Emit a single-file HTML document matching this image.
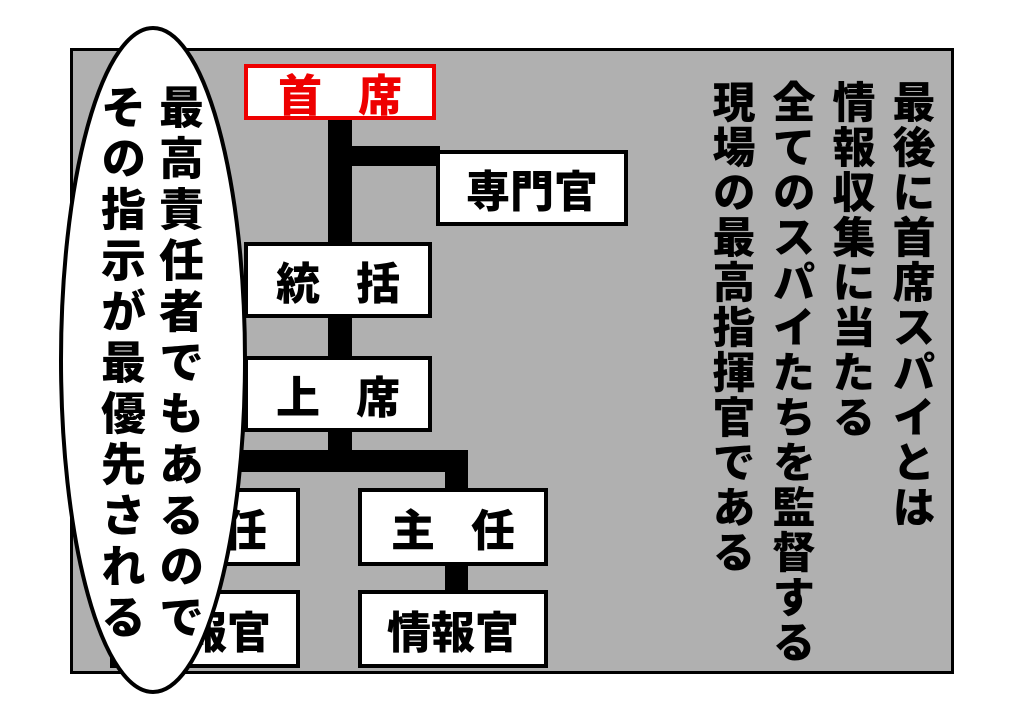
<!DOCTYPE html>
<html><head><meta charset="utf-8"><style>
body{margin:0;width:1024px;height:724px;background:#fff;position:relative;overflow:hidden;font-family:"Liberation Sans","Noto Sans CJK JP",sans-serif;font-weight:bold}
.a{position:absolute;box-sizing:border-box}
.panel{left:70px;top:48px;width:884px;height:626px;background:#b0b0b0;border:3px solid #000}
.bx{background:#fff;border:4px solid #000;display:flex;align-items:center;justify-content:center;font-size:44px;font-weight:900;color:#000}
.bar{background:#000}
.v{writing-mode:vertical-rl;font-size:43px;font-weight:900;line-height:1;letter-spacing:2px;white-space:nowrap}
.e{font-size:45px;letter-spacing:6px;font-weight:900}
.sp{display:inline-block;width:36px}
</style></head><body>
<div class="a panel"></div>
<div class="a bar" style="left:328px;top:118px;width:24px;height:352px"></div>
<div class="a bar" style="left:350px;top:146px;width:90px;height:20px"></div>
<div class="a bar" style="left:200px;top:450px;width:268px;height:22px"></div>
<div class="a bar" style="left:445px;top:460px;width:23px;height:130px"></div>
<div class="a bx" style="left:244px;top:64px;width:192px;height:56px;border-color:#e00;color:#e00">首<span class="sp"></span>席</div>
<div class="a bx" style="left:436px;top:150px;width:192px;height:76px">専門官</div>
<div class="a bx" style="left:244px;top:242px;width:188px;height:76px">統<span class="sp"></span>括</div>
<div class="a bx" style="left:244px;top:356px;width:188px;height:76px">上<span class="sp"></span>席</div>
<div class="a bx" style="left:110px;top:488px;width:190px;height:78px">主<span class="sp"></span>任</div>
<div class="a bx" style="left:358px;top:488px;width:190px;height:78px">主<span class="sp"></span>任</div>
<div class="a bx" style="left:110px;top:590px;width:190px;height:78px">情報官</div>
<div class="a bx" style="left:358px;top:590px;width:190px;height:78px">情報官</div>
<svg class="a" style="left:0;top:0" width="1024" height="724"><ellipse cx="153" cy="360" rx="92" ry="332" fill="#fff" stroke="#000" stroke-width="4"/></svg>
<div class="a v e" style="left:155px;top:84px">最高責任者でもあるので</div>
<div class="a v e" style="left:97px;top:84px">その指示が最優先される</div>
<div class="a v" style="left:888px;top:80px">最後に首席スパイとは</div>
<div class="a v" style="left:828px;top:80px">情報収集に当たる</div>
<div class="a v" style="left:768px;top:80px">全てのスパイたちを監督する</div>
<div class="a v" style="left:708px;top:80px">現場の最高指揮官である</div>
</body></html>
